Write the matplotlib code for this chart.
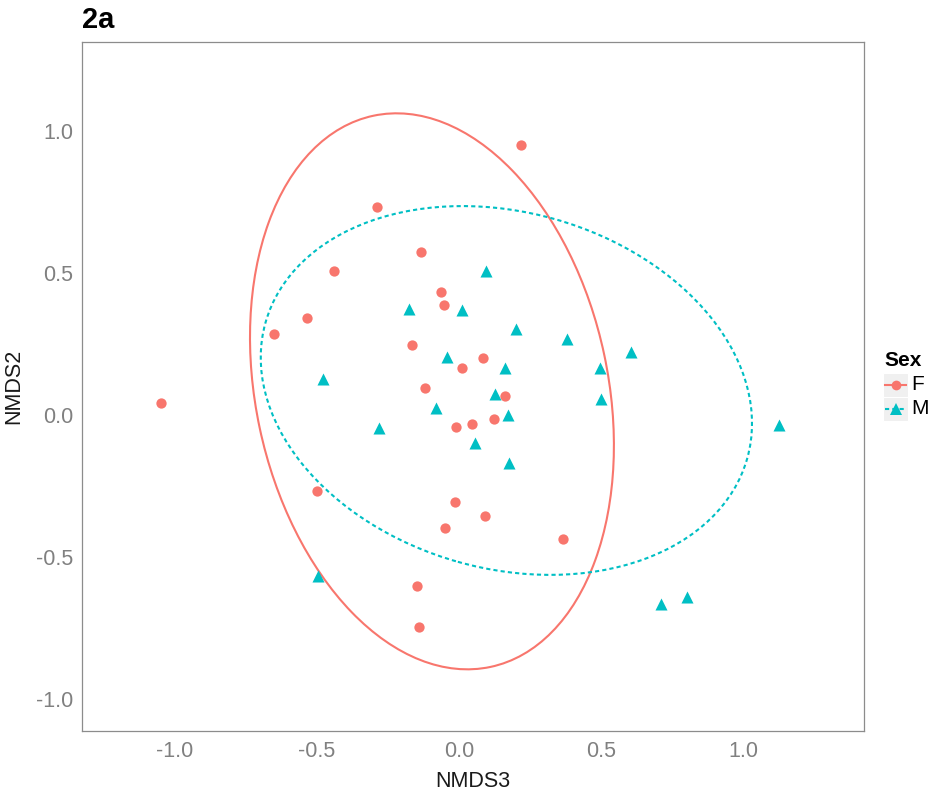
import matplotlib
matplotlib.use("Agg")
import matplotlib.pyplot as plt
from matplotlib.patches import Ellipse, Rectangle
from matplotlib.lines import Line2D

plt.rcParams['font.family'] = ['Liberation Sans', 'DejaVu Sans']

# NMDS scores
f_x = [-1.049, 0.218, -0.289, -0.134, -0.440, -0.535, -0.651, -0.063, -0.053, -0.165,
       0.085, 0.011, -0.120, 0.162, 0.123, -0.011, 0.046, -0.500, -0.014, 0.092,
       -0.049, 0.366, -0.148, -0.141]
f_y = [0.042, 0.951, 0.732, 0.574, 0.507, 0.342, 0.285, 0.433, 0.387, 0.246,
       0.201, 0.165, 0.095, 0.067, -0.014, -0.042, -0.032, -0.268, -0.306, -0.356,
       -0.398, -0.437, -0.602, -0.746]
m_x = [0.095, -0.176, 0.011, 0.201, 0.380, 0.606, -0.042, 0.162, 0.496, -0.479,
       0.127, 0.500, -0.081, 0.173, -0.282, 1.127, 0.056, 0.176, -0.496, 0.711, 0.803]
m_y = [0.507, 0.373, 0.370, 0.303, 0.268, 0.222, 0.204, 0.165, 0.165, 0.127,
       0.074, 0.056, 0.025, 0.000, -0.046, -0.035, -0.099, -0.169, -0.567, -0.665, -0.641]

# 95% ellipses: centre, semi-axes (x, y before rotation), rotation in degrees
f_ell = dict(xy=(-0.095, 0.083), a=0.620, b=0.992, angle=12.0)
m_ell = dict(xy=(0.167, 0.086), a=0.881, b=0.627, angle=-15.8)

ticks = [-1.0, -0.5, 0.0, 0.5, 1.0]
tick_labels = ["-1.0", "-0.5", "0.0", "0.5", "1.0"]

red = "#F8766D"
teal = "#00BFC4"
W, H = 934, 795

fig = plt.figure(figsize=(W / 100, H / 100), dpi=100)
ax = fig.add_axes([82 / W, 64 / H, 782 / W, 689 / H])

ax.scatter(f_x, f_y, s=55, color=red, marker="o", linewidths=0, zorder=3)
ax.scatter(m_x, m_y, s=75, color=teal, marker="^", linewidths=0, zorder=3)

ax.add_patch(Ellipse(f_ell["xy"], 2 * f_ell["a"], 2 * f_ell["b"], angle=f_ell["angle"],
                     fill=False, edgecolor=red, lw=1.5, zorder=2))
ax.add_patch(Ellipse(m_ell["xy"], 2 * m_ell["a"], 2 * m_ell["b"], angle=m_ell["angle"],
                     fill=False, edgecolor=teal, lw=1.5, linestyle=(0, (2, 1.5)), zorder=2))

ax.set_xlim(-1.327, 1.426)
ax.set_ylim(-1.113, 1.313)
ax.set_xticks(ticks)
ax.set_yticks(ticks)
ax.set_xticklabels(tick_labels)
ax.set_yticklabels(tick_labels)
ax.tick_params(length=0, labelsize=15.5, labelcolor="#808080")
ax.tick_params(axis="x", pad=7)
ax.tick_params(axis="y", pad=6.5)
for sp in ax.spines.values():
    sp.set_color("#8c8c8c")
    sp.set_linewidth(0.9)

ax.set_xlabel("NMDS3", fontsize=15.5, color="#1a1a1a", labelpad=7)
ax.set_ylabel("NMDS2", fontsize=15.5, color="#1a1a1a", labelpad=8)
fig.text(82 / W, 1 - 19.5 / H, "2a", fontsize=21, fontweight="bold", va="center", ha="left")

# legend, built by hand so the keys get ggplot's grey background
fig.text(884 / W, 1 - 360 / H, "Sex", fontsize=15, fontweight="bold", va="center", ha="left")
legend_items = [("F", red, "o", "-", 7), ("M", teal, "^", (0, (2, 1.5)), 8)]
for i, (lab, col, mk, ls, ms) in enumerate(legend_items):
    top = 373 + i * 24
    fig.patches.append(Rectangle((883 / W, 1 - (top + 24) / H), 25 / W, 24 / H,
                                 transform=fig.transFigure, facecolor="#f0f0f0",
                                 edgecolor="white", lw=0.8, zorder=-1))
    yc = 1 - (top + 12) / H
    fig.lines.append(Line2D([885 / W, 906 / W], [yc, yc], transform=fig.transFigure,
                            color=col, lw=1.5, linestyle=ls))
    fig.lines.append(Line2D([895.5 / W], [yc], transform=fig.transFigure,
                            color=col, marker=mk, markersize=ms, markeredgewidth=0))
    fig.text(911 / W, yc, lab, fontsize=15, va="center", ha="left")

fig.savefig("out.png", dpi=100)
